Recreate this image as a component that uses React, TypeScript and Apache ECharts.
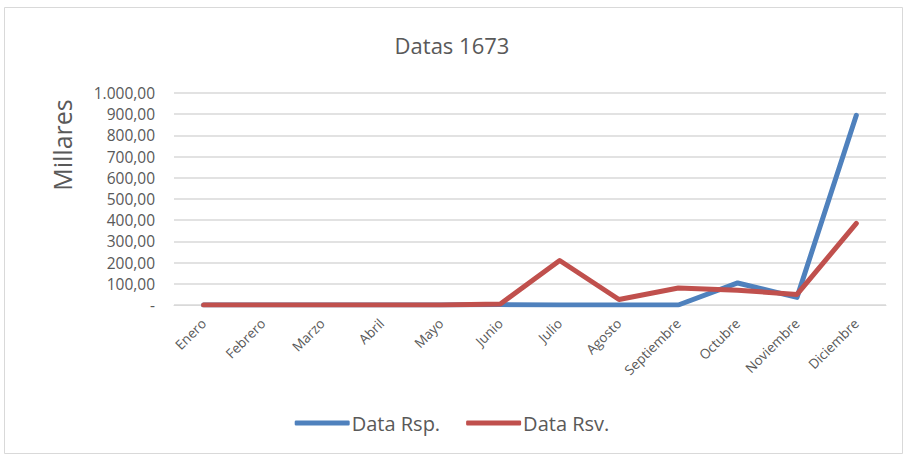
import React, { useEffect, useRef } from "react";
import * as echarts from "echarts";

const categories = ["Enero", "Febrero", "Marzo", "Abril", "Mayo", "Junio", "Julio", "Agosto", "Septiembre", "Octubre", "Noviembre", "Diciembre"];
const dataRsp = [0, 0, 0, 0, 0, 2, 0, 0, 0, 104, 36, 895];
const dataRsv = [0, 0, 0, 0, 0, 5, 210, 26, 80, 70, 50, 385];
const seriesNames = ["Data Rsp.", "Data Rsv."];
const colors = ["#4F81BD", "#C0504D"];
const yAxisTitle = "Millares";

function fmt(v: number): string {
  if (v === 0) return "-";
  const s = v.toFixed(2);
  const [i, d] = s.split(".");
  return i.replace(/\B(?=(\d{3})+(?!\d))/g, ".") + "," + d;
}

export default function App() {
  const ref = useRef<HTMLDivElement>(null);
  useEffect(() => {
    document.body.style.margin = "0";
    const chart = echarts.init(ref.current!, null, { renderer: "svg" });
    const font = "'Open Sans', 'Liberation Sans', sans-serif";
    chart.setOption({
      animation: false,
      backgroundColor: "#ffffff",
      textStyle: { fontFamily: font },
      title: {
        text: "Datas 1673",
        left: "center",
        top: 29,
        textStyle: { fontSize: 22, fontWeight: "normal", color: "#595959", fontFamily: font },
      },
      graphic: [
        {
          type: "rect",
          shape: { x: 4.5, y: 7.5, width: 898, height: 446 },
          style: { fill: "none", stroke: "#d9d9d9", lineWidth: 1 },
          silent: true,
        },
        {
          type: "text",
          x: 62,
          y: 145,
          rotation: Math.PI / 2,
          style: {
            text: yAxisTitle,
            fontSize: 25,
            fontFamily: font,
            fill: "#595959",
            align: "center",
            verticalAlign: "middle",
          },
          silent: true,
        },
      ],
      legend: {
        bottom: 18,
        left: "center",
        itemWidth: 55,
        itemHeight: 5,
        itemGap: 26,
        icon: "roundRect",
        textStyle: { fontSize: 20, color: "#595959", padding: [0, 0, 0, -3] },
        data: seriesNames,
      },
      grid: { left: 174, right: 18, top: 93, bottom: 151, containLabel: false, outerBoundsMode: "none" },
      xAxis: {
        type: "category",
        data: categories,
        boundaryGap: true,
        axisLine: { lineStyle: { color: "#d9d9d9", width: 1 } },
        axisTick: { show: false },
        axisLabel: { rotate: 45, fontSize: 13.5, color: "#595959", margin: 16, interval: 0 },
      },
      yAxis: {
        type: "value",
        min: 0,
        max: 1000,
        interval: 100,
        axisLine: { show: false },
        axisTick: { show: false },
        splitLine: { lineStyle: { color: "#d9d9d9", width: 1.5 } },
        axisLabel: { fontSize: 15.5, color: "#595959", formatter: (v: number) => fmt(v), margin: 19 },
      },
      series: [
        {
          name: seriesNames[0],
          type: "line",
          data: dataRsp,
          symbol: "none",
          lineStyle: { width: 5, color: colors[0], cap: "round", join: "round" },
          itemStyle: { color: colors[0] },
        },
        {
          name: seriesNames[1],
          type: "line",
          data: dataRsv,
          symbol: "none",
          lineStyle: { width: 5, color: colors[1], cap: "round", join: "round" },
          itemStyle: { color: colors[1] },
        },
      ],
    });
    return () => chart.dispose();
  }, []);
  return <div ref={ref} style={{ width: 904, height: 456 }} />;
}
